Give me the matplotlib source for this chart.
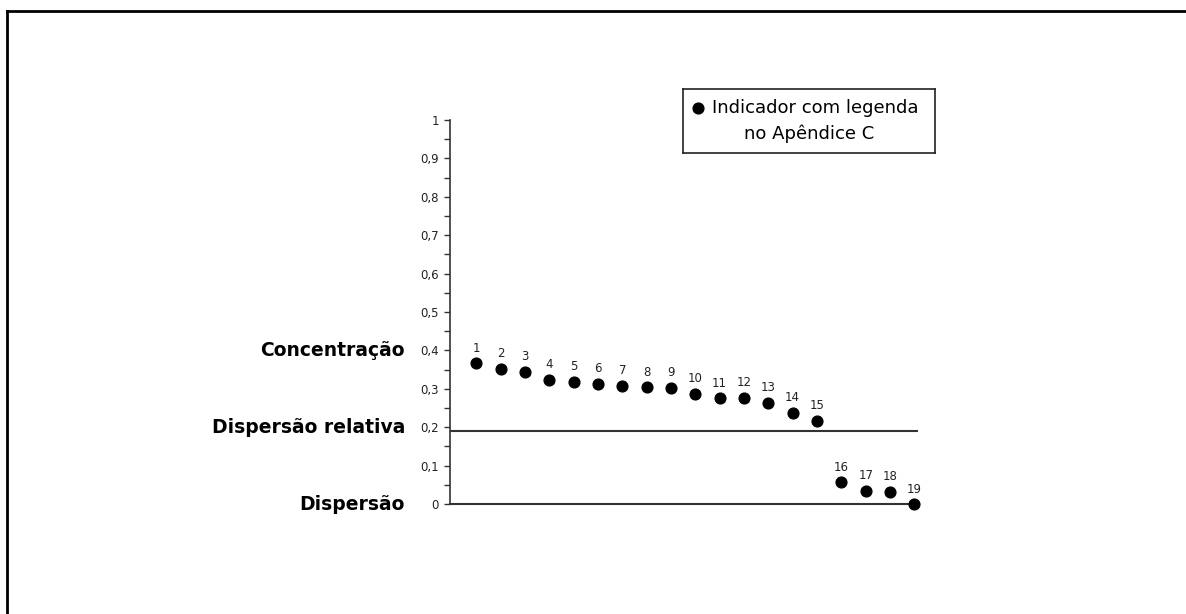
import matplotlib
matplotlib.use("Agg")
import matplotlib.pyplot as plt
from matplotlib.lines import Line2D

plt.rcParams['font.family'] = ['DejaVu Sans']

# Data
indicators = list(range(1, 20))
values = [0.366, 0.352, 0.345, 0.324, 0.319, 0.313, 0.308, 0.305, 0.303, 0.287,
          0.275, 0.277, 0.264, 0.238, 0.217, 0.057, 0.035, 0.032, 0.0]
point_labels = [str(i) for i in indicators]
y_ticks = [0, 0.1, 0.2, 0.3, 0.4, 0.5, 0.6, 0.7, 0.8, 0.9, 1.0]
y_ticklabels = ['0', '0,1', '0,2', '0,3', '0,4', '0,5', '0,6', '0,7', '0,8', '0,9', '1']
threshold = 0.19
zone_labels = ['Concentração', 'Dispersão relativa', 'Dispersão']
zone_label_y = [0.4, 0.2, 0.0]
legend_lines = ['Indicador com legenda', 'no Apêndice C']

W, H = 1186, 614
fig = plt.figure(figsize=(W / 100, H / 100), dpi=100)
fig.patch.set_facecolor('white')

# figure frame (top and left only)
fig.add_artist(Line2D([7 / W, 7 / W], [0, 1 - 11 / H], transform=fig.transFigure,
                      color='black', lw=2))
fig.add_artist(Line2D([7 / W, 1], [1 - 11 / H, 1 - 11 / H], transform=fig.transFigure,
                      color='black', lw=2))

ax = fig.add_axes([450 / W, 1 - 504 / H, (918 - 450) / W, (504 - 120) / H])
ax.scatter(indicators, values, s=60, color='black', zorder=3, clip_on=False)
for x, y, lab in zip(indicators, values, point_labels):
    ax.annotate(lab, (x, y), xytext=(0, 6), textcoords='offset points',
                ha='center', va='bottom', fontsize=8.5, color='#222222')

ax.set_xlim(-0.08, 19.15)
ax.set_ylim(0, 1.0)
ax.axhline(threshold, color='#333333', lw=1.5, zorder=2)

for s in ['top', 'right']:
    ax.spines[s].set_visible(False)
ax.spines['left'].set_color('#333333')
ax.spines['bottom'].set_color('#333333')
ax.spines['left'].set_linewidth(1.2)
ax.spines['bottom'].set_linewidth(1.5)
ax.set_xticks([])
ax.set_yticks(y_ticks)
ax.set_yticklabels(y_ticklabels, fontsize=8.5)
ax.set_yticks([0.05 + 0.1 * i for i in range(10)], minor=True)
ax.tick_params(axis='y', which='both', direction='out', length=4, width=1, pad=4,
               colors='#333333', labelcolor='#222222')

for lab, yv in zip(zone_labels, zone_label_y):
    ax.annotate(lab, (0, yv), xycoords=ax.get_yaxis_transform(),
                xytext=(-45 * 0.72, 0), textcoords='offset points',
                ha='right', va='center', fontsize=13.5, fontweight='bold', color='black')

# legend box
lax = fig.add_axes([683 / W, 1 - 153 / H, (935 - 683) / W, (153 - 89) / H])
lax.set_xticks([]); lax.set_yticks([])
for s in lax.spines.values():
    s.set_linewidth(1.2)
    s.set_color('#222222')
lax.set_xlim(0, 1); lax.set_ylim(0, 1)
lax.scatter([0.06], [0.7], s=60, color='black')
lax.text(0.115, 0.7, legend_lines[0], ha='left', va='center', fontsize=13)
lax.text(0.5, 0.3, legend_lines[1], ha='center', va='center', fontsize=13)

fig.savefig('out.png', dpi=100, facecolor='white')
